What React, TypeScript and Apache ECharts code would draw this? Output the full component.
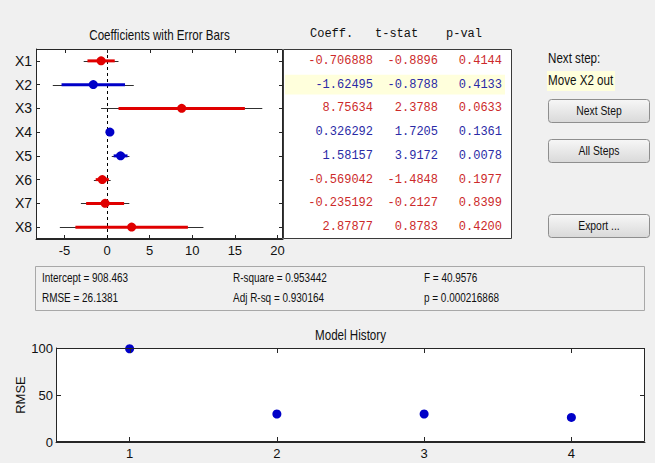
import React, { useEffect, useRef } from "react";
import * as echarts from "echarts";

const variables = ["X1", "X2", "X3", "X4", "X5", "X6", "X7", "X8"];
const coefficients = [-0.706888, -1.62495, 8.75634, 0.326292, 1.58157, -0.569042, -0.235192, 2.87877];
const tStats = [-0.8896, -0.8788, 2.3788, 1.7205, 3.9172, -1.4848, -0.2127, 0.8783];
const pValues = [0.4144, 0.4133, 0.0633, 0.1361, 0.0078, 0.1977, 0.8399, 0.42];
const inModel = [false, true, false, true, true, false, false, false];
const ci90Low = [-2.308, -5.351, 1.339, -0.056, 0.768, -1.341, -2.463, -3.726];
const ci90High = [0.894, 2.101, 16.173, 0.709, 2.395, 0.203, 1.993, 9.484];
const ci95Low = [-2.75, -6.379, -0.708, -0.161, 0.544, -1.554, -3.078, -5.549];
const ci95High = [1.336, 3.129, 18.22, 0.814, 2.619, 0.416, 2.608, 11.307];
const coefTicks = [-5, 0, 5, 10, 15, 20];
const historySteps = [1, 2, 3, 4];
const historyRmse = [99.2, 29.8, 29.8, 26.1381];
const historyTicks = [1, 2, 3, 4];
const rmseTicks = [0, 50, 100];
const statsCol1 = ["Intercept = 908.463", "RMSE = 26.1381"];
const statsCol2 = ["R-square = 0.953442", "Adj R-sq = 0.930164"];
const statsCol3 = ["F = 40.9576", "p = 0.000216868"];
const tableHeaders = ["Coeff.", "t-stat", "p-val"];
const coefTitle = "Coefficients with Error Bars";
const historyTitle = "Model History";
const nextStepLabel = "Next step:";
const nextStepText = "Move X2 out";
const highlightRow = 1;
const buttons = ["Next Step", "All Steps", "Export ..."];

const SANS = "'Liberation Sans', Arial, sans-serif";
const MONO = "'Liberation Mono', 'Courier New', monospace";
const NARROW = 0.83;
const RED = "#e00000";
const BLUE = "#0000c8";
const RED_TXT = "#cc2a2a";
const BLUE_TXT = "#2a2aa6";
const AX = "#262626";

const crisp = (v: number) => Math.round(v) + 0.5;

export default function App() {
  const ref = useRef<HTMLDivElement>(null);
  useEffect(() => {
    const chart = echarts.init(ref.current!, null, { renderer: "svg" });
    const g0 = { left: 36, top: 49, width: 247, height: 190 };
    const g1 = { left: 56, top: 348, width: 589, height: 94 };
    const rowH = g0.height / variables.length;

    const axisLine = () => ({ show: true, onZero: false, lineStyle: { color: AX, width: 1 } });
    const labelStyle = { color: "#111", fontFamily: SANS, fontSize: 13 };

    const ntext = (x: number, y: number, text: string, size: number, align = "left", z = 2) => ({
      type: "text", x, y, scaleX: NARROW, z,
      style: { text, fontFamily: SANS, fontSize: size, fill: "#111", align, verticalAlign: "middle" },
    });

    const graphic: any[] = [];
    graphic.push(ntext(159.5, 35, coefTitle, 14, "center"));
    graphic.push(ntext(350.5, 335, historyTitle, 14, "center"));
    // plot frames
    [g0, g1].forEach((g) =>
      graphic.push({ type: "rect", z: 10, silent: true, shape: { x: g.left + 0.5, y: g.top + 0.5, width: g.width - 1, height: g.height - 1 }, style: { fill: "none", stroke: AX, lineWidth: 1 } })
    );
    // table box
    graphic.push({ type: "rect", z: -1, shape: { x: 283.5, y: 49.5, width: 228, height: 189 }, style: { fill: "#ffffff", stroke: "#3a3a3a", lineWidth: 1 } });
    graphic.push({ type: "rect", z: 0, shape: { x: 285, y: g0.top + highlightRow * rowH + 2, width: 220, height: rowH - 4 }, style: { fill: "#ffffdc" } });
    const hdrX = [310, 375, 446];
    tableHeaders.forEach((h, i) =>
      graphic.push({ type: "text", x: hdrX[i], y: 34, style: { text: h, fontFamily: MONO, fontSize: 12, fill: "#111", verticalAlign: "middle" } })
    );
    variables.forEach((v, i) => {
      const y = g0.top + (i + 0.5) * rowH;
      const col = inModel[i] ? BLUE_TXT : RED_TXT;
      const vals = [coefficients[i].toPrecision(6), tStats[i].toFixed(4), pValues[i].toFixed(4)];
      const rx = [373, 438, 502];
      vals.forEach((t, j) =>
        graphic.push({ type: "text", x: rx[j], y, z: 2, style: { text: t, fontFamily: MONO, fontSize: 12, fill: col, align: "right", verticalAlign: "middle" } })
      );
    });
    // right panel
    graphic.push(ntext(548, 58, nextStepLabel, 14));
    graphic.push({ type: "rect", shape: { x: 547, y: 71, width: 68, height: 20 }, style: { fill: "#ffffdc" } });
    graphic.push(ntext(548, 80, nextStepText, 14));
    const btnY = [99, 139, 214];
    buttons.forEach((b, i) => {
      graphic.push({
        type: "rect",
        shape: { x: 548.5, y: btnY[i] + 0.5, width: 101, height: 23, r: 3 },
        style: {
          fill: { type: "linear", x: 0, y: 0, x2: 0, y2: 1, colorStops: [{ offset: 0, color: "#f7f7f7" }, { offset: 1, color: "#d9d9d9" }] },
          stroke: "#8e8e8e",
          lineWidth: 1,
        },
      });
      graphic.push(ntext(599, btnY[i] + 12, b, 12.5, "center"));
    });
    // stats box
    graphic.push({ type: "rect", shape: { x: 35.5, y: 266.5, width: 609, height: 44 }, style: { fill: "none", stroke: "#a8a8a8", lineWidth: 1 } });
    const sx = [42, 233, 424];
    [statsCol1, statsCol2, statsCol3].forEach((col, i) =>
      col.forEach((t, j) => graphic.push(ntext(sx[i], 278 + j * 20, t, 12)))
    );

    const errData = variables.map((v, i) => [i, ci95Low[i], ci95High[i], ci90Low[i], ci90High[i], inModel[i] ? 1 : 0]);

    // inward ticks on the top and right sides
    const tickSeries = (xIdx: number, yIdx: number, xTicks: number[], yTicks: number[], len: number) => ({
      type: "custom",
      xAxisIndex: xIdx,
      yAxisIndex: yIdx,
      data: [[xTicks[0], yTicks[0]]],
      silent: true,
      clip: false,
      z: 5,
      renderItem: (params: any, api: any) => {
        const cs = params.coordSys;
        const top = cs.y;
        const right = cs.x + cs.width;
        const st = { stroke: AX, lineWidth: 1 };
        const children: any[] = [];
        xTicks.forEach((v) => {
          const x = crisp(api.coord([v, yTicks[0]])[0]);
          children.push({ type: "line", shape: { x1: x, y1: top, x2: x, y2: top + len }, style: st });
        });
        yTicks.forEach((v) => {
          const y = crisp(api.coord([xTicks[0], v])[1]);
          children.push({ type: "line", shape: { x1: right, y1: y, x2: right - len, y2: y }, style: st });
        });
        return { type: "group", children };
      },
    });

    chart.setOption({
      animation: false,
      backgroundColor: "#f0f0f0",
      grid: [
        { ...g0, backgroundColor: "#ffffff", show: true, borderWidth: 0 },
        { ...g1, backgroundColor: "#ffffff", show: true, borderWidth: 0 },
      ],
      xAxis: [
        {
          gridIndex: 0, type: "value", min: -8.35, max: 20.65, position: "bottom",
          axisLine: axisLine(), splitLine: { show: false },
          axisTick: { show: true, inside: true, length: 4, lineStyle: { color: AX }, customValues: coefTicks },
          axisLabel: { show: true, ...labelStyle, margin: 5, customValues: coefTicks },
        },
        {
          gridIndex: 1, type: "value", min: 0.5, max: 4.5, position: "bottom",
          axisLine: axisLine(), splitLine: { show: false },
          axisTick: { show: true, inside: true, length: 5, lineStyle: { color: AX }, customValues: historyTicks },
          axisLabel: { show: true, ...labelStyle, margin: 5, customValues: historyTicks },
        },
      ],
      yAxis: [
        {
          gridIndex: 0, type: "category", data: variables, inverse: true, position: "left",
          axisLine: axisLine(), splitLine: { show: false },
          axisTick: { show: true, inside: true, length: 4, alignWithLabel: true, lineStyle: { color: AX } },
          axisLabel: { show: true, ...labelStyle, fontSize: 14, margin: 4 },
        },
        {
          gridIndex: 1, type: "value", min: 0, max: 100, interval: 50, position: "left",
          axisLine: axisLine(), splitLine: { show: false },
          axisTick: { show: true, inside: true, length: 5, lineStyle: { color: AX } },
          axisLabel: { show: true, ...labelStyle, margin: 3 },
          name: "RMSE", nameLocation: "middle", nameRotate: 90, nameGap: 29, nameMoveOverlap: false,
          nameTextStyle: { fontFamily: SANS, fontSize: 13, color: "#111" },
        },
      ],
      series: [
        {
          type: "custom",
          xAxisIndex: 0,
          yAxisIndex: 0,
          data: [[0]],
          encode: { x: 0 },
          silent: true,
          renderItem: (params: any, api: any) => {
            const cs = params.coordSys;
            const x = crisp(api.coord([api.value(0), 0])[0]);
            return {
              type: "line",
              shape: { x1: x, y1: cs.y, x2: x, y2: cs.y + cs.height },
              style: { stroke: "#000", lineWidth: 1, lineDash: [3, 3] },
            };
          },
          z: 1,
        },
        {
          type: "custom",
          xAxisIndex: 0,
          yAxisIndex: 0,
          data: errData,
          encode: { x: [1, 2, 3, 4], y: 0 },
          renderItem: (params: any, api: any) => {
            const idx = api.value(0);
            const a = api.coord([api.value(1), idx]);
            const b = api.coord([api.value(2), idx]);
            const c = api.coord([api.value(3), idx]);
            const d = api.coord([api.value(4), idx]);
            const color = api.value(5) ? BLUE : RED;
            return {
              type: "group",
              children: [
                { type: "line", shape: { x1: a[0], y1: crisp(a[1]), x2: b[0], y2: crisp(b[1]) }, style: { stroke: "#303030", lineWidth: 1 } },
                { type: "line", shape: { x1: c[0], y1: c[1], x2: d[0], y2: d[1] }, style: { stroke: color, lineWidth: 3 } },
              ],
            };
          },
          z: 2,
        },
        {
          type: "scatter",
          xAxisIndex: 0,
          yAxisIndex: 0,
          symbolSize: 9,
          data: coefficients.map((c, i) => ({ value: [c, i], itemStyle: { color: inModel[i] ? BLUE : RED, opacity: 1 } })),
          z: 3,
        },
        {
          type: "scatter",
          xAxisIndex: 1,
          yAxisIndex: 1,
          symbolSize: 9,
          itemStyle: { color: BLUE, opacity: 1 },
          data: historySteps.map((s, i) => [s, historyRmse[i]]),
          z: 3,
        },
        tickSeries(0, 0, coefTicks, variables.map((v, i) => i), 4),
        tickSeries(1, 1, historyTicks, rmseTicks, 5),
      ],
      graphic,
    });
    return () => chart.dispose();
  }, []);
  return <div ref={ref} style={{ position: "absolute", left: 0, top: 0, width: 655, height: 463 }} />;
}
